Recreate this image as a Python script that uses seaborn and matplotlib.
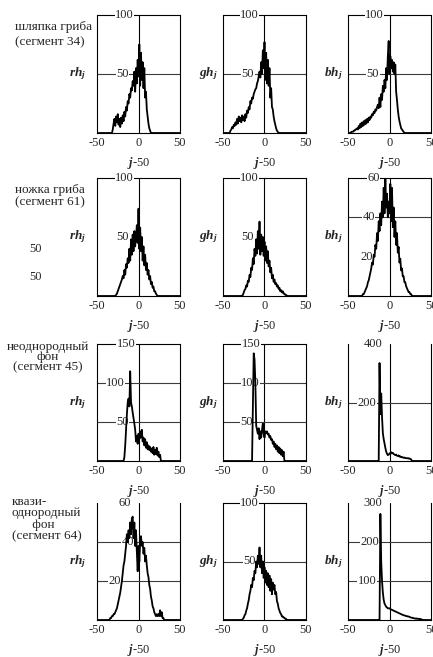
import numpy as np
import matplotlib
matplotlib.use("Agg")
import matplotlib.pyplot as plt
import seaborn as sns

sns.set_style("white")
plt.rcParams["font.family"] = ["Liberation Serif", "DejaVu Serif"]
plt.rcParams["mathtext.fontset"] = "custom"
plt.rcParams["mathtext.rm"] = "Liberation Serif"
plt.rcParams["mathtext.it"] = "Liberation Serif:italic"
plt.rcParams["mathtext.bf"] = "Liberation Serif:bold:italic"

# brightness offset j-50
offsets = np.arange(-50, 51)

# Each histogram: offset of the first listed bin, then the bin counts from there.
# Bins outside the listed range are empty.
cap_r_start = -32
cap_r = [0, 3, 8, 12, 6, 14, 9, 16, 7, 12, 5, 13, 8, 15, 10, 18, 14, 22, 19, 27,
         25, 33, 30, 38, 36, 44, 40, 52, 35, 55, 42, 62, 48, 75, 40, 68, 45, 60, 38, 55,
         30, 35, 20, 14, 8, 4, 2, 0]
cap_g_start = -42
cap_g = [0, 2, 3, 5, 4, 7, 6, 9, 7, 12, 8, 14, 10, 13, 9, 15, 11, 14, 10, 16,
         13, 19, 17, 22, 20, 27, 25, 30, 29, 33, 35, 37, 38, 42, 44, 48, 52, 47, 60, 50,
         70, 55, 77, 45, 68, 42, 62, 40, 55, 30, 38, 22, 20, 14, 10, 7, 4, 2, 1, 0]
cap_b_start = -47
cap_b = [0, 1, 1, 1, 2, 2, 3, 3, 4, 3, 6, 4, 8, 5, 9, 6, 10, 7, 11, 8,
         12, 9, 13, 11, 14, 13, 16, 15, 18, 17, 20, 19, 22, 24, 21, 30, 22, 33, 28, 40,
         35, 45, 38, 55, 45, 65, 78, 50, 65, 55, 62, 52, 60, 50, 58, 35, 28, 20, 14, 10,
         7, 4, 3, 2, 1, 0]

stem_r_start = -28
stem_r = [0, 1, 2, 4, 6, 8, 10, 12, 14, 17, 15, 22, 18, 27, 24, 32, 28, 40, 30, 48,
          35, 52, 38, 55, 42, 50, 60, 45, 74, 40, 58, 38, 50, 30, 42, 26, 35, 22, 28, 18,
          22, 14, 17, 10, 12, 7, 8, 4, 4, 2, 1, 0]
stem_g_start = -27
stem_g = [0, 1, 3, 5, 6, 9, 8, 13, 12, 18, 16, 24, 22, 32, 27, 40, 34, 48, 36, 55,
          40, 63, 35, 52, 38, 50, 34, 46, 30, 42, 28, 38, 25, 30, 20, 24, 15, 18, 12, 14,
          10, 11, 8, 9, 6, 7, 4, 5, 3, 4, 2, 2, 1, 1, 0]
stem_b_start = -33
stem_b = [0, 1, 1, 2, 3, 4, 5, 7, 8, 10, 12, 14, 17, 16, 21, 20, 26, 24, 32, 28,
          38, 33, 42, 36, 48, 40, 55, 42, 60, 45, 52, 40, 48, 42, 57, 38, 55, 35, 45, 30,
          38, 26, 32, 22, 25, 17, 19, 13, 14, 10, 10, 7, 7, 5, 4, 3, 2, 2, 1, 1, 0]

mixed_r_start = -18
mixed_r = [0, 5, 20, 40, 60, 75, 80, 70, 115, 75, 70, 62, 55, 48, 40, 25, 32, 22, 35, 28,
           38, 30, 40, 25, 30, 20, 28, 17, 24, 15, 20, 14, 18, 12, 16, 10, 18, 8, 14, 9,
           17, 7, 12, 5, 8, 0]
mixed_g_start = -16
mixed_g = [0, 0, 70, 138, 130, 100, 45, 40, 35, 42, 28, 38, 30, 40, 48, 35, 30, 38, 36, 38,
           34, 35, 30, 32, 27, 28, 22, 25, 18, 22, 15, 20, 12, 18, 10, 16, 8, 14, 6, 12, 0]
mixed_b_start = -14
mixed_b = [0, 0, 335, 160, 231, 150, 95, 75, 60, 45, 32, 25, 20, 22, 25, 28, 30, 26, 28, 24,
           22, 20, 22, 18, 17, 19, 15, 16, 13, 14, 12, 11, 12, 10, 10, 9, 10, 8, 9, 7, 6, 0]

flat_r_start = -35
flat_r = [0, 1, 1, 2, 2, 3, 3, 4, 5, 6, 8, 10, 12, 14, 17, 20, 24, 28, 30, 34,
          38, 44, 40, 46, 42, 50, 44, 52, 53, 42, 50, 38, 46, 35, 25, 38, 30, 40, 43, 38,
          40, 34, 37, 30, 33, 28, 24, 22, 18, 16, 12, 10, 7, 6, 4, 3, 2, 3, 2, 3,
          2, 5, 2, 4, 1, 1, 0]
flat_g_start = -27
flat_g = [0, 1, 2, 4, 5, 8, 10, 14, 17, 22, 25, 30, 28, 36, 34, 42, 40, 50, 45, 55,
          48, 62, 45, 55, 40, 50, 36, 45, 32, 42, 30, 40, 28, 38, 25, 35, 22, 32, 26, 30,
          22, 24, 16, 14, 10, 8, 6, 5, 3, 3, 2, 2, 1, 1, 0]
flat_b_start = -13
flat_b = [0, 0, 272, 150, 100, 70, 52, 42, 38, 34, 32, 30, 30, 30, 28, 27, 26, 25, 24, 23,
          22, 21, 20, 19, 18, 17, 16, 15, 14, 13, 12, 12, 11, 10, 10, 9, 9, 8, 7, 6,
          6, 5, 5, 4, 4, 3, 4, 3, 3, 2, 3, 2, 1, 0]

# y-axis scale per panel: upper limit, tick values
y_limits = [[100, 100, 100],
            [100, 100, 60],
            [150, 150, 400],
            [60, 100, 300]]
y_ticks = [[[50, 100], [50, 100], [50, 100]],
           [[50, 100], [50, 100], [20, 40, 60]],
           [[50, 100, 150], [50, 100, 150], [200, 400]],
           [[20, 40, 60], [50, 100], [100, 200, 300]]]

row_titles = ["шляпка гриба\n(сегмент 34)",
              "ножка гриба\n(сегмент 61)",
              "неоднородный\nфон\n(сегмент 45)",
              "квази-\nоднородный\n      фон\n(сегмент 64)"]
channel_labels = [r"$\mathbf{rh}_{\mathbf{j}}$", r"$\mathbf{gh}_{\mathbf{j}}$",
                  r"$\mathbf{bh}_{\mathbf{j}}$"]
x_tick_values = [-50, 0, 50]
x_tick_labels = ["-50", "0", "50"]

series = [[(cap_r_start, cap_r), (cap_g_start, cap_g), (cap_b_start, cap_b)],
          [(stem_r_start, stem_r), (stem_g_start, stem_g), (stem_b_start, stem_b)],
          [(mixed_r_start, mixed_r), (mixed_g_start, mixed_g), (mixed_b_start, mixed_b)],
          [(flat_r_start, flat_r), (flat_g_start, flat_g), (flat_b_start, flat_b)]]

# ---- layout / style (pixels of a 433x657 canvas) ----
W, H = 433, 657
col_left = [97, 223, 348]
col_width = 83
row_span = [(15, 133), (178, 296), (344, 461), (503, 620)]
# horizontal position (data units) of each tick label centre
tick_label_x = [[[-19, -17], [-20, -18], [-20, -18]],
                [[-19, -17], [-21, -18], [-28, -25, -19]],
                [[-19, -28, -15], [-22, -17, -16], [-27, -20]],
                [[-29, -13, -16], [-18, -18], [-27, -24, -20]]]
# whether a horizontal rule is drawn at each tick value
tick_rule = [[[1, 1], [1, 1], [1, 1]],
             [[0, 1], [0, 1], [0, 1, 1]],
             [[1, 1, 1], [1, 1, 1], [1, 0]],
             [[1, 1, 0], [1, 1], [1, 1, 0]]]
channel_label_right = [86, 218, 343]
# row title block: left/centre x, centre y, alignment, line spacing
title_anchor = [(15, 34.5, "left", 1.35), (15, 196, "left", 0.98),
                (48, 357, "center", 0.8), (12, 519, "left", 0.92)]


def full_hist(start, vals):
    y = np.zeros(offsets.size)
    i = start + 50
    y[i:i + len(vals)] = vals
    return y


fig = plt.figure(figsize=(W / 100, H / 100), dpi=100)
fig.patch.set_facecolor("white")

for r in range(4):
    top, bottom = row_span[r]
    for c in range(3):
        ax = fig.add_axes([col_left[c] / W, 1 - bottom / H, col_width / W, (bottom - top) / H])
        ax.set_facecolor("white")
        start, vals = series[r][c]
        sns.lineplot(x=offsets, y=full_hist(start, vals), ax=ax, color="black",
                     linewidth=1.3, zorder=3)
        ymax = y_limits[r][c]
        ax.set_xlim(-50, 50)
        ax.set_ylim(0, ymax)
        ax.axvline(0, color="black", lw=0.8, zorder=1)
        for v, lx, rule in zip(y_ticks[r][c], tick_label_x[r][c], tick_rule[r][c]):
            if rule:
                ax.axhline(v, color="#3c3c3c" if v < ymax else "black", lw=0.8,
                           zorder=1, clip_on=False)
            ax.text(lx, v, str(v), ha="center", va="center", fontsize=9, zorder=2.6,
                    clip_on=False,
                    bbox=dict(facecolor="white", edgecolor="none", pad=0.3))
        for side in ("left", "right", "bottom"):
            ax.spines[side].set_visible(True)
            ax.spines[side].set_color("black")
            ax.spines[side].set_linewidth(0.8)
        ax.spines["top"].set_visible(False)
        ax.set_yticks([])
        ax.set_xticks(x_tick_values)
        ax.set_xticklabels(x_tick_labels)
        ax.tick_params(axis="x", length=0, pad=3, labelsize=9)
        ax.set_xlabel(r"$\mathbf{j}$-50", fontsize=9, labelpad=4)
        ax.set_ylabel("")
        fig.text(channel_label_right[c] / W, 1 - ((top + bottom) / 2) / H,
                 channel_labels[c], ha="right", va="center", fontsize=9.5)

    x, y, ha, ls = title_anchor[r]
    fig.text(x / W, 1 - y / H, row_titles[r], ha=ha, va="center", multialignment=ha,
             fontsize=9.5, linespacing=ls)

# loose labels beside the second row
fig.text(35 / W, 1 - 249 / H, "50", ha="center", va="center", fontsize=9)
fig.text(35 / W, 1 - 277 / H, "50", ha="center", va="center", fontsize=9)

fig.savefig("out.png", dpi=100, facecolor="white")
